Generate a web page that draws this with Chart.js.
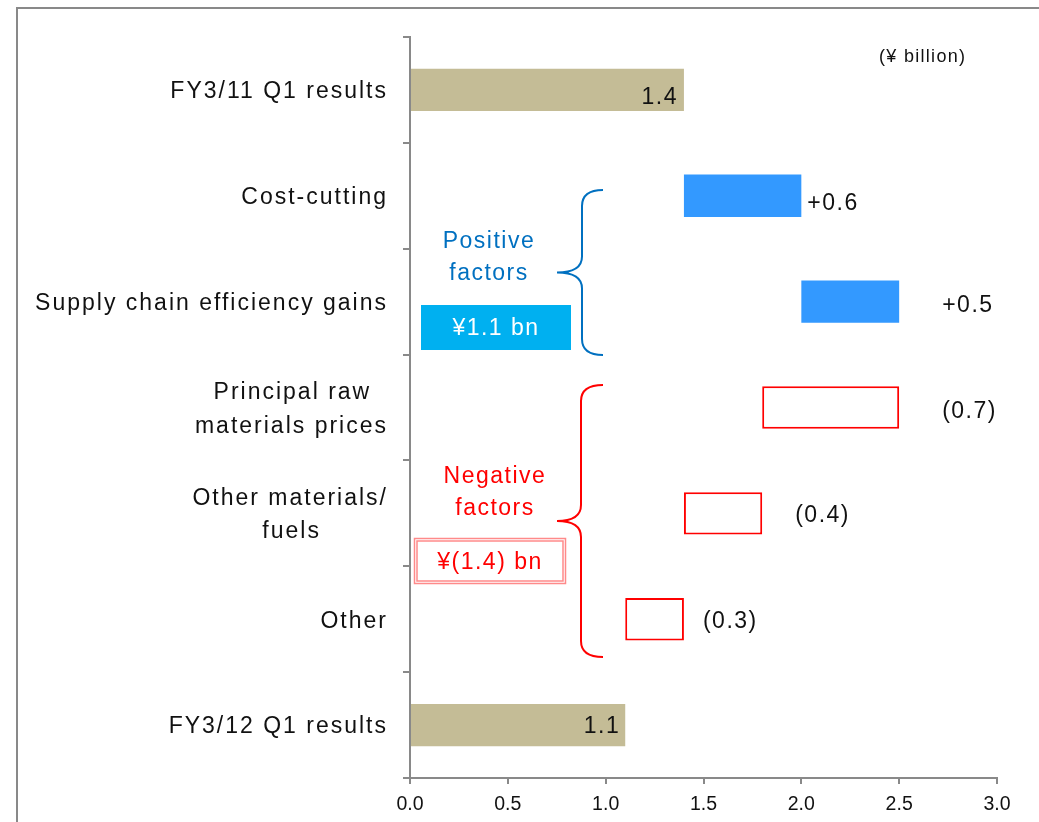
<!DOCTYPE html>
<html>
<head>
<meta charset="utf-8">
<title>Operating income bridge</title>
<script src="https://cdn.jsdelivr.net/npm/chart.js@4.4.1/dist/chart.umd.min.js"></script>
<style>
  html, body { margin: 0; padding: 0; background: #ffffff; }
  #wrap { position: relative; width: 1039px; height: 822px; }
</style>
</head>
<body>
<div id="wrap"><canvas id="bridge"></canvas></div>
<script>
// ---- data (¥ billion) ----
const categories = [
  'FY3/11 Q1 results',
  'Cost-cutting',
  'Supply chain efficiency gains',
  ['Principal raw', 'materials prices'],
  ['Other materials/', 'fuels'],
  'Other',
  'FY3/12 Q1 results'
];
const openingResult = 1.4;
const factorChanges = [0.6, 0.5, -0.7, -0.4, -0.3];
const closingResult = 1.1;
const xTickLabels = ['0.0', '0.5', '1.0', '1.5', '2.0', '2.5', '3.0'];

// ---- waterfall segments built from the values above ----
const segments = [[0, openingResult]];
let running = openingResult;
factorChanges.forEach(ch => {
  segments.push([running, running + ch]);
  running += ch;
});
segments.push([0, closingResult]);
const amounts = [openingResult, ...factorChanges, closingResult];
const kinds = amounts.map((v, i) =>
  (i === 0 || i === amounts.length - 1) ? 'total' : (v >= 0 ? 'gain' : 'loss'));

const fmtValue = (v, kind) => {
  if (kind === 'total') return v.toFixed(1);
  if (kind === 'gain') return '+' + v.toFixed(1);
  return '(' + Math.abs(v).toFixed(1) + ')';
};
const gainTotal = factorChanges.filter(v => v > 0).reduce((a, b) => a + b, 0);
const lossTotal = factorChanges.filter(v => v < 0).reduce((a, b) => a + b, 0);

// ---- styling ----
const FONT = "'Liberation Sans', Arial, Helvetica, sans-serif";
const AXIS_GREY = '#898989';
const palette = {
  total: { fill: '#c4bc96', border: '#c4bc96', width: 0 },
  gain:  { fill: '#3399ff', border: '#3399ff', width: 0 },
  loss:  { fill: '#ffffff', border: '#ff0000', width: 2 }
};
// where each value label sits relative to the end of its bar
const labelNudge = [
  { dx: -6, dy: 8, align: 'right' },
  { dx: 6,  dy: 8, align: 'left' },
  { dx: 43, dy: 4, align: 'left' },
  { dx: 43, dy: 4, align: 'left' },
  { dx: 33, dy: 2, align: 'left' },
  { dx: 19, dy: 2, align: 'left' },
  { dx: -5, dy: 2, align: 'right' }
];

// centre the lines of a wrapped category label inside its right-aligned block
const measureCtx = document.createElement('canvas').getContext('2d');
function centreLines(lines) {
  measureCtx.font = '23px ' + FONT;
  if ('letterSpacing' in measureCtx) measureCtx.letterSpacing = '2px';
  const widths = lines.map(l => measureCtx.measureText(l).width);
  const maxW = Math.max(...widths);
  const spaceW = measureCtx.measureText(' ').width;
  return lines.map((l, i) => l + ' '.repeat(Math.round((maxW - widths[i]) / 2 / spaceW)));
}

function drawBrace(ctx, xEnd, xStem, xTip, yTop, yBot, color) {
  const yMid = (yTop + yBot) / 2;
  const r = 16;
  ctx.beginPath();
  ctx.moveTo(xEnd, yTop);
  ctx.quadraticCurveTo(xStem, yTop, xStem, yTop + r);
  ctx.lineTo(xStem, yMid - r);
  ctx.quadraticCurveTo(xStem, yMid, xTip, yMid);
  ctx.quadraticCurveTo(xStem, yMid, xStem, yMid + r);
  ctx.lineTo(xStem, yBot - r);
  ctx.quadraticCurveTo(xStem, yBot, xEnd, yBot);
  ctx.strokeStyle = color;
  ctx.lineWidth = 2;
  ctx.stroke();
}

function setSpacing(ctx, px) {
  if ('letterSpacing' in ctx) ctx.letterSpacing = px + 'px';
}

const decorations = {
  id: 'decorations',
  beforeDraw(chart) {
    const ctx = chart.ctx;
    setSpacing(ctx, 0);
    // outer frame (top and left edges)
    ctx.save();
    ctx.strokeStyle = AXIS_GREY;
    ctx.lineWidth = 2;
    ctx.beginPath();
    ctx.moveTo(17, 822);
    ctx.lineTo(17, 8);
    ctx.lineTo(1039, 8);
    ctx.stroke();
    ctx.restore();
  },
  afterDatasetsDraw(chart) {
    // category labels are drawn after the bars with wider tracking
    setSpacing(chart.ctx, 2);
  },
  afterDraw(chart) {
    const ctx = chart.ctx;
    ctx.save();
    setSpacing(ctx, 1.5);

    // value labels beside / inside each bar
    const meta = chart.getDatasetMeta(0);
    ctx.font = '23px ' + FONT;
    ctx.fillStyle = '#111111';
    ctx.textBaseline = 'middle';
    meta.data.forEach((bar, i) => {
      const n = labelNudge[i];
      const xEnd = Math.max(bar.x, bar.base);
      ctx.textAlign = n.align;
      ctx.fillText(fmtValue(amounts[i], kinds[i]), xEnd + n.dx, bar.y + n.dy);
    });

    // unit note
    ctx.font = '18px ' + FONT;
    setSpacing(ctx, 1.3);
    ctx.textAlign = 'left';
    ctx.textBaseline = 'alphabetic';
    ctx.fillText('(¥ billion)', 879, 62);

    // positive factors group
    setSpacing(ctx, 1.5);
    drawBrace(ctx, 603, 582, 557, 190, 355, '#0070c0');
    ctx.font = '23px ' + FONT;
    ctx.fillStyle = '#0070c0';
    ctx.textAlign = 'center';
    ctx.fillText('Positive', 489, 248);
    ctx.fillText('factors', 489, 280);
    ctx.fillStyle = '#00b0f0';
    ctx.fillRect(421, 305, 150, 45);
    ctx.fillStyle = '#ffffff';
    ctx.textBaseline = 'middle';
    ctx.fillText('¥' + gainTotal.toFixed(1) + ' bn', 496, 329);

    // negative factors group
    drawBrace(ctx, 603, 581, 557, 385, 657, '#ff0000');
    ctx.fillStyle = '#ff0000';
    ctx.textBaseline = 'alphabetic';
    ctx.fillText('Negative', 495, 483);
    ctx.fillText('factors', 495, 515);
    ctx.strokeStyle = '#ff8a8a';
    ctx.lineWidth = 1.5;
    ctx.strokeRect(414.5, 538.5, 151, 45);
    ctx.strokeRect(417, 541, 146, 40);
    ctx.fillStyle = '#ff0000';
    ctx.textBaseline = 'middle';
    ctx.fillText('¥(' + Math.abs(lossTotal).toFixed(1) + ') bn', 490, 563);

    ctx.restore();
    setSpacing(ctx, 0);
  }
};

new Chart(document.getElementById('bridge'), {
  type: 'bar',
  data: {
    labels: categories.map(c => Array.isArray(c) ? centreLines(c) : c),
    datasets: [{
      data: segments,
      backgroundColor: kinds.map(k => palette[k].fill),
      borderColor: kinds.map(k => palette[k].border),
      borderWidth: kinds.map(k => palette[k].width),
      borderSkipped: false,
      barPercentage: 0.4,
      categoryPercentage: 1.0
    }]
  },
  options: {
    indexAxis: 'y',
    responsive: true,
    maintainAspectRatio: false,
    animation: false,
    layout: { padding: { top: 37, right: 42, bottom: 0, left: 0 } },
    plugins: {
      legend: { display: false },
      tooltip: { enabled: false }
    },
    scales: {
      x: {
        type: 'linear',
        min: 0,
        max: 3,
        afterBuildTicks(scale) {
          scale.ticks = xTickLabels.map(t => ({ value: parseFloat(t) }));
        },
        afterFit(scale) { scale.height = 44; },
        ticks: {
          callback: (v) => xTickLabels.find(t => parseFloat(t) === v) || '',
          font: { family: FONT, size: 19.5 },
          color: '#111111',
          padding: 9,
          maxRotation: 0
        },
        grid: {
          display: true,
          drawOnChartArea: false,
          drawTicks: true,
          tickLength: 6,
          color: AXIS_GREY,
          lineWidth: 2
        },
        border: { display: true, color: AXIS_GREY, width: 2 }
      },
      y: {
        type: 'category',
        afterFit(scale) { scale.width = 410; },
        ticks: {
          font: { family: FONT, size: 23, lineHeight: 1.45 },
          color: '#111111',
          padding: 15,
          labelOffset: 2,
          z: 1,
          autoSkip: false
        },
        grid: {
          display: true,
          offset: true,
          drawOnChartArea: false,
          drawTicks: true,
          tickLength: 7,
          color: AXIS_GREY,
          lineWidth: 2
        },
        border: { display: true, color: AXIS_GREY, width: 2, z: 1 }
      }
    }
  },
  plugins: [decorations]
});
</script>
</body>
</html>
